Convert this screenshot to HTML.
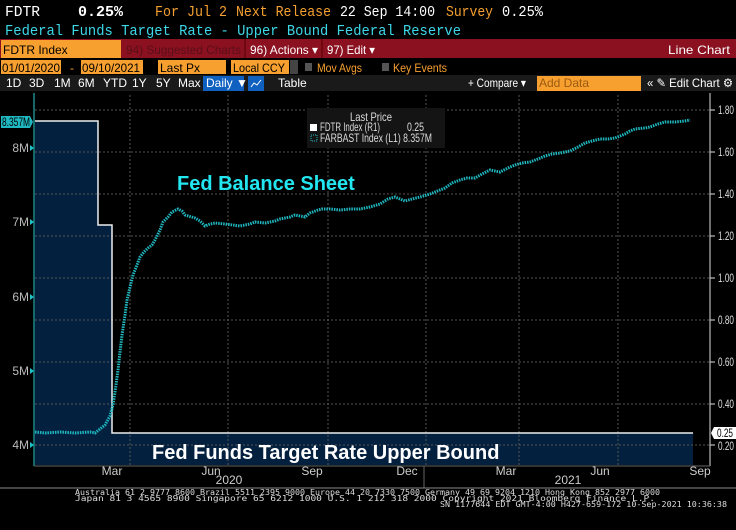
<!DOCTYPE html>
<html><head><meta charset="utf-8"><style>
body{margin:0;background:#000;width:736px;height:530px;overflow:hidden}
svg{display:block}
.m{font-family:"Liberation Mono","DejaVu Sans Mono",monospace;font-size:15px}
.s{font-family:"Liberation Sans",sans-serif;font-size:12px}
</style></head><body>
<svg width="736" height="530" xmlns="http://www.w3.org/2000/svg">
<rect width="736" height="530" fill="#000"/>
<!-- header -->
<text class="m" x="5" y="16" fill="#fff" textLength="35" lengthAdjust="spacingAndGlyphs">FDTR</text>
<text class="m" x="78" y="16" fill="#fff" font-weight="bold" textLength="45" lengthAdjust="spacingAndGlyphs">0.25%</text>
<text class="m" x="155" y="16" fill="#f5a030" textLength="72" lengthAdjust="spacingAndGlyphs">For Jul 2</text>
<text class="m" x="236" y="16" fill="#f5a030" textLength="95" lengthAdjust="spacingAndGlyphs">Next Release</text>
<text class="m" x="340" y="16" fill="#fff" textLength="95" lengthAdjust="spacingAndGlyphs">22 Sep 14:00</text>
<text class="m" x="446" y="16" fill="#f5a030" textLength="47" lengthAdjust="spacingAndGlyphs">Survey</text>
<text class="m" x="502" y="16" fill="#fff" textLength="41" lengthAdjust="spacingAndGlyphs">0.25%</text>
<text class="m" x="5" y="35" fill="#3cd8e8" textLength="456" lengthAdjust="spacingAndGlyphs">Federal Funds Target Rate - Upper Bound  Federal Reserve</text>
<rect x="0" y="39" width="736" height="19" fill="#8b1020"/>
<rect x="1" y="40" width="120" height="18" fill="#f7a030"/>
<text class="s" x="3" y="54" font-size="13" fill="#000">FDTR Index</text>
<text class="s" x="126" y="54" font-size="13" fill="#5a0f18" textLength="115" lengthAdjust="spacingAndGlyphs">94) Suggested Charts</text>
<line x1="245" y1="39" x2="245" y2="58" stroke="#500"/>
<text class="s" x="250" y="54" font-size="13" fill="#fff" textLength="68" lengthAdjust="spacingAndGlyphs">96) Actions ▾</text>
<line x1="322" y1="39" x2="322" y2="58" stroke="#500"/>
<text class="s" x="327" y="54" font-size="13" fill="#fff" textLength="48" lengthAdjust="spacingAndGlyphs">97) Edit ▾</text>
<text class="s" x="668" y="54" font-size="13" fill="#fff" textLength="62" lengthAdjust="spacingAndGlyphs">Line Chart</text>
<!-- row4 -->
<rect x="1" y="60" width="60" height="14" fill="#f7a030"/>
<text class="s" x="2" y="72" fill="#000" textLength="58" lengthAdjust="spacingAndGlyphs">01/01/2020</text>
<text class="s" x="70" y="72" fill="#f7a030">-</text>
<rect x="81" y="60" width="62" height="14" fill="#f7a030"/>
<text class="s" x="82" y="72" fill="#000" textLength="58" lengthAdjust="spacingAndGlyphs">09/10/2021</text>
<rect x="158" y="60" width="68" height="14" fill="#f7a030"/>
<text class="s" x="160" y="72" fill="#000">Last Px</text>
<rect x="231" y="60" width="58" height="14" fill="#f7a030"/>
<text class="s" x="233" y="72" fill="#000" textLength="52" lengthAdjust="spacingAndGlyphs">Local CCY</text>
<rect x="290" y="60" width="8" height="14" fill="#444"/>
<rect x="305" y="63" width="7" height="8" fill="#555"/>
<text class="s" x="317" y="72" fill="#f7a030" textLength="45" lengthAdjust="spacingAndGlyphs">Mov Avgs</text>
<rect x="382" y="63" width="7" height="8" fill="#555"/>
<text class="s" x="393" y="72" fill="#f7a030" textLength="54" lengthAdjust="spacingAndGlyphs">Key Events</text>
<!-- row5 -->
<rect x="0" y="75" width="736" height="16" fill="#1a1a1a"/>
<g class="s" fill="#fff" font-size="10">
<text x="6" y="87">1D</text><text x="29" y="87">3D</text><text x="54" y="87">1M</text><text x="78" y="87">6M</text><text x="103" y="87">YTD</text><text x="132" y="87">1Y</text><text x="156" y="87">5Y</text><text x="178" y="87">Max</text>
</g>
<rect x="203" y="76" width="41" height="15" fill="#1060c0"/>
<text class="s" x="206" y="87" font-size="10" fill="#fff">Daily ▼</text>
<rect x="248" y="76" width="16" height="15" fill="#1060c0"/>
<polyline points="251,87 254,83 257,85 261,80" fill="none" stroke="#fff"/>
<text class="s" x="278" y="87" font-size="10" fill="#fff">Table</text>
<text class="s" x="468" y="87" font-size="10" fill="#fff" textLength="58" lengthAdjust="spacingAndGlyphs">+ Compare ▾</text>
<rect x="537" y="76" width="104" height="15" fill="#f7a030"/>
<text class="s" x="539" y="87" font-size="10" fill="#9a5a10">Add Data</text>
<text class="s" x="647" y="87" font-size="10" fill="#fff" textLength="86" lengthAdjust="spacingAndGlyphs">«  ✎ Edit Chart  ⚙</text>
<!-- fill -->
<path d="M35,121 H98 V225 H112 V433 H693 V465 H35 Z" fill="#03203f"/>
<!-- grid -->
<g stroke="#555" stroke-dasharray="2,2" stroke-width="1">
<line x1="35" y1="110" x2="710" y2="110"/><line x1="35" y1="152" x2="710" y2="152"/><line x1="35" y1="194" x2="710" y2="194"/><line x1="35" y1="236" x2="710" y2="236"/><line x1="35" y1="278" x2="710" y2="278"/><line x1="35" y1="320" x2="710" y2="320"/><line x1="35" y1="362" x2="710" y2="362"/><line x1="35" y1="404" x2="710" y2="404"/><line x1="35" y1="445" x2="710" y2="445"/>
<line x1="130" y1="95" x2="130" y2="465"/><line x1="228" y1="95" x2="228" y2="465"/><line x1="328" y1="95" x2="328" y2="465"/><line x1="426" y1="95" x2="426" y2="465"/><line x1="519" y1="95" x2="519" y2="465"/><line x1="618" y1="95" x2="618" y2="465"/>
</g>
<!-- axes -->
<line x1="34" y1="93" x2="34" y2="466" stroke="#1a8a8a" stroke-width="1.5"/>
<line x1="710" y1="93" x2="710" y2="466" stroke="#ddd" stroke-width="1"/>
<g fill="#1fc0c8"><polygon points="30,145 34,148 30,151"/><polygon points="30,219 34,222 30,225"/><polygon points="30,294 34,297 30,300"/><polygon points="30,368 34,371 30,374"/><polygon points="30,442 34,445 30,448"/></g>
<g class="s" font-size="10" fill="#bbb" text-anchor="end">
<text x="29" y="152">8M</text><text x="29" y="226">7M</text><text x="29" y="301">6M</text><text x="29" y="375">5M</text><text x="29" y="449">4M</text></g>
<path d="M1,116 H30 L33,122 L30,128 H1 Z" fill="#1fb8c0"/>
<text class="s" x="2" y="126" font-size="10" fill="#000" textLength="28" lengthAdjust="spacingAndGlyphs">8.357M</text>
<g class="s" font-size="10" fill="#ddd">
<text x="718" y="114" textLength="16" lengthAdjust="spacingAndGlyphs">1.80</text><text x="718" y="156" textLength="16" lengthAdjust="spacingAndGlyphs">1.60</text><text x="718" y="198" textLength="16" lengthAdjust="spacingAndGlyphs">1.40</text><text x="718" y="240" textLength="16" lengthAdjust="spacingAndGlyphs">1.20</text><text x="718" y="282" textLength="16" lengthAdjust="spacingAndGlyphs">1.00</text><text x="718" y="324" textLength="16" lengthAdjust="spacingAndGlyphs">0.80</text><text x="718" y="366" textLength="16" lengthAdjust="spacingAndGlyphs">0.60</text><text x="718" y="408" textLength="16" lengthAdjust="spacingAndGlyphs">0.40</text><text x="718" y="450" textLength="16" lengthAdjust="spacingAndGlyphs">0.20</text></g>
<g stroke="#ddd"><line x1="710" y1="110" x2="715" y2="110"/><line x1="710" y1="152" x2="715" y2="152"/><line x1="710" y1="194" x2="715" y2="194"/><line x1="710" y1="236" x2="715" y2="236"/><line x1="710" y1="278" x2="715" y2="278"/><line x1="710" y1="320" x2="715" y2="320"/><line x1="710" y1="362" x2="715" y2="362"/><line x1="710" y1="404" x2="715" y2="404"/><line x1="710" y1="445" x2="715" y2="445"/></g>
<path d="M711,433 L714,427 H736 V439 H714 Z" fill="#fff"/>
<text class="s" x="717" y="437" font-size="10" fill="#000" textLength="16" lengthAdjust="spacingAndGlyphs">0.25</text>
<!-- FDTR line -->
<polyline points="35,121 98,121 98,225 112,225 112,433 693,433" fill="none" stroke="#eee" stroke-width="1.5"/>
<!-- balance sheet -->
<polyline fill="none" stroke="#1fb8c0" stroke-width="3" stroke-dasharray="1.5,1" points="35,432 45,433 60,432 75,433 90,432 95,433 100,429 105,425 110,416 113,405 116,385 118,370 120,352 122,335 125,315 127,300 130,287 133,275 137,265 140,257 144,252 148,248 152,245 155,240 160,230 163,222 168,217 172,212 178,209 182,211 185,215 195,218 200,221 205,226 210,224 215,223 225,224 240,226 250,224 255,222 265,223 275,221 280,219 290,217 295,215 305,217 310,213 318,210 322,209 330,209 340,210 350,209 360,209 370,207 380,204 388,199 395,197 400,199 405,201 412,199 420,197 430,194 445,188 452,183 460,180 467,178 475,178 482,174 490,170 495,171 500,172 508,168 515,165 522,163 530,162 538,159 545,156 552,154 560,153 565,152 570,151 578,147 585,143 592,141 600,139 608,139 615,138 620,136 625,134 630,131 635,129 645,128 650,127 658,124 665,122 675,122 685,121 690,120"/>
<!-- legend -->
<rect x="307" y="108" width="138" height="40" fill="#141414"/>
<text class="s" x="350" y="121" font-size="9" fill="#ddd" textLength="42" lengthAdjust="spacingAndGlyphs">Last Price</text>
<rect x="310" y="124" width="7" height="7" fill="#fff"/>
<text class="s" x="320" y="131" font-size="9" fill="#ddd" textLength="60" lengthAdjust="spacingAndGlyphs">FDTR Index  (R1)</text>
<text class="s" x="407" y="131" font-size="9" fill="#ddd" textLength="17" lengthAdjust="spacingAndGlyphs">0.25</text>
<rect x="311" y="135" width="6" height="6" fill="none" stroke="#1fb8c0" stroke-dasharray="1,1"/>
<text class="s" x="320" y="142" font-size="9" fill="#ddd" textLength="112" lengthAdjust="spacingAndGlyphs">FARBAST Index  (L1) 8.357M</text>
<!-- annotations -->
<text x="177" y="190" font-family="Liberation Sans,sans-serif" font-weight="bold" font-size="20" fill="#22e6f0">Fed Balance Sheet</text>
<text x="152" y="459" font-family="Liberation Sans,sans-serif" font-weight="bold" font-size="20" fill="#fff">Fed Funds Target Rate Upper Bound</text>
<!-- x axis -->
<g stroke="#666"><line x1="34" y1="466" x2="710" y2="466"/></g>
<g class="s" font-size="9" fill="#ccc" text-anchor="middle">
<text x="112" y="475">Mar</text><text x="211" y="475">Jun</text><text x="312" y="475">Sep</text><text x="407" y="475">Dec</text><text x="506" y="475">Mar</text><text x="600" y="475">Jun</text><text x="700" y="475">Sep</text>
<text x="229" y="484">2020</text><text x="568" y="484">2021</text></g>
<line x1="424" y1="466" x2="424" y2="488" stroke="#666"/>
<line x1="0" y1="488" x2="736" y2="488" stroke="#888"/>
<g font-family="DejaVu Sans Mono,monospace" font-size="8" fill="#ddd">
<text x="75" y="495" textLength="585" lengthAdjust="spacingAndGlyphs">Australia 61 2 9777 8600 Brazil 5511 2395 9000 Europe 44 20 7330 7500 Germany 49 69 9204 1210 Hong Kong 852 2977 6000</text>
<text x="75" y="501" textLength="580" lengthAdjust="spacingAndGlyphs">Japan 81 3 4565 8900      Singapore 65 6212 1000      U.S. 1 212 318 2000          Copyright 2021 Bloomberg Finance L.P.</text>
<text x="440" y="507" textLength="287" lengthAdjust="spacingAndGlyphs">SN 1177644 EDT  GMT-4:00 H427-659-172 10-Sep-2021 10:36:38</text>
</g>
</svg>
</body></html>
